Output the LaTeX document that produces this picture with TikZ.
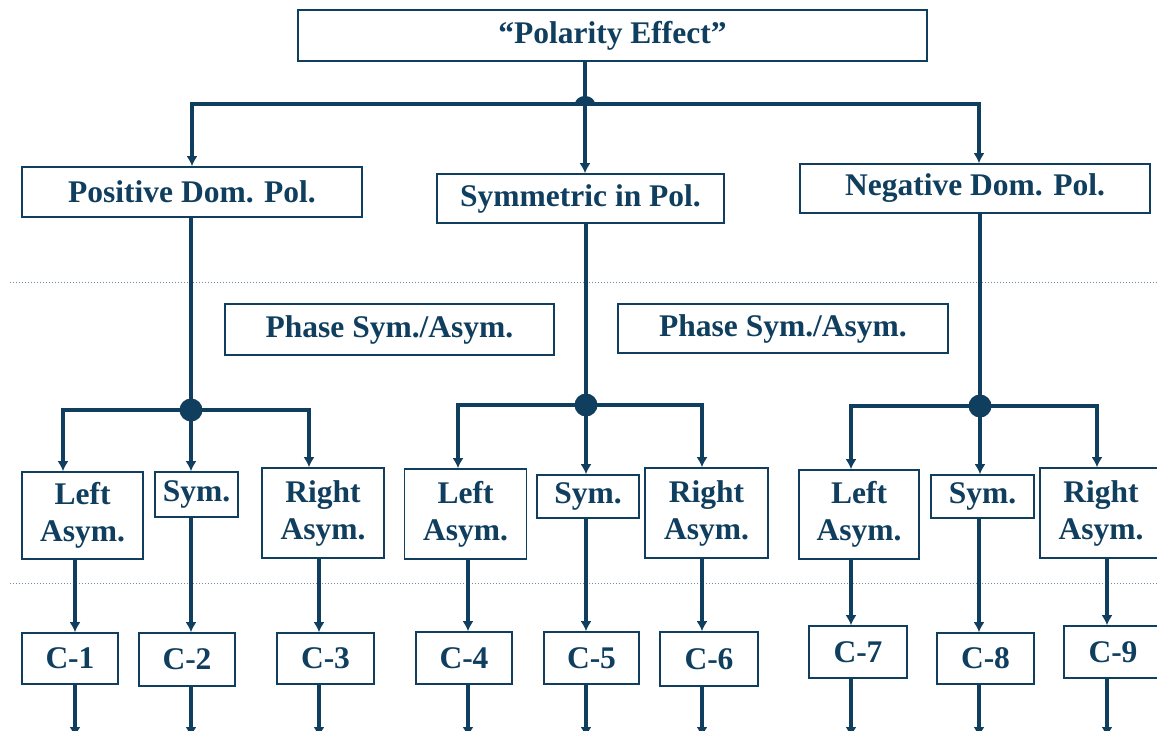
\documentclass[tikz,border=0pt]{standalone}
\usepackage{fontspec}
\setmainfont{Liberation Serif}
\usetikzlibrary{arrows.meta}
\definecolor{ink}{RGB}{16,62,94}
\definecolor{rule}{RGB}{110,140,165}
\tikzset{
    box/.style={draw=ink, line width=1.6pt, text=ink, fill=white, inner sep=0pt, align=center,
        font=\fontsize{31.5}{37}\selectfont\bfseries},
    link/.style={draw=ink, line width=3.5pt},
    arr/.style={link, -{Latex[length=10pt,width=11pt]}},
    sep/.style={draw=rule, line width=1pt, dotted},
}
\begin{document}
\begin{tikzpicture}[x=1pt, y=-1pt]
    \useasboundingbox (0,0) rectangle (1157,731);
    \fill[white] (0,0) rectangle (1157,731);

    \draw[sep] (10,282) -- (1157,282);
    \draw[sep] (10,583) -- (1157,583);

    % 1. boxes
    \node[box, minimum width=629pt, minimum height=51pt] (pe) at (612.5,35.5) {“Polarity Effect”};
    \node[box, minimum width=340pt, minimum height=50pt] (pos) at (192,192) {Positive Dom. Pol.};
    \node[box, minimum width=287pt, minimum height=49pt] (sym) at (580.5,198.5) {Symmetric in Pol.};
    \node[box, minimum width=350pt, minimum height=49pt] (neg) at (975,188.5) {Negative Dom. Pol.};
    \node[box, minimum width=329pt, minimum height=51pt] (phA) at (389.5,329.5) {Phase Sym./Asym.};
    \node[box, minimum width=330pt, minimum height=49pt] (phB) at (783,328.5) {Phase Sym./Asym.};

    \foreach \n/\x/\y/\w/\h/\t in {la1/82.5/515.5/121/87/Left\\Asym., s1/196.5/494.5/83/45/Sym.,
        ra1/323/513/122/90/Right\\Asym., la2/465.5/514/122/90/Left\\Asym., s2/588/496.5/102/43/Sym.,
        ra2/706.5/513/123/90/Right\\Asym., la3/859/514.5/120/89/Left\\Asym., s3/982.5/496.5/103/43/Sym.,
        ra3/1101/513/122/90/Right\\Asym.} {
        \node[box, minimum width=\w pt, minimum height=\h pt] (\n) at (\x,\y) {\t};
    }

    \foreach \k/\x/\y/\w/\h in {1/70/658.5/96/51, 2/187/659.5/96/53, 3/325.5/658.5/97/51,
        4/464/658/96/52, 5/591.5/658/95/52, 6/709/659/98/54,
        7/858/652/98/52, 8/985.5/658.5/97/51, 9/1113/652/98/52} {
        \node[box, minimum width=\w pt, minimum height=\h pt] (c\k) at (\x,\y) {C-\k};
    }

    % 2. connectors
    \coordinate (j0) at (585,104);
    \coordinate (d1) at (191,410);
    \coordinate (d2) at (586,405);
    \coordinate (d3) at (980,406);
    \coordinate (bot) at (0,737);

    \draw[link] (pe.south -| j0) -- (j0);
    \draw[arr] (j0) -| (pos.north);
    \draw[arr] (j0) -- (j0 |- sym.north);
    \draw[arr] (j0) -| ([xshift=4pt]neg.north);
    \fill[ink] ([xshift=-10pt]j0) arc (180:0:10pt and 8pt) -- cycle;

    \draw[link] (pos.south -| d1) -- (d1);
    \draw[link] (sym.south -| d2) -- (d2);
    \draw[link] (neg.south -| d3) -- (d3);

    \foreach \d/\l/\ls/\s/\r/\rs in {d1/la1/-19.5/s1/ra1/-14, d2/la2/-7.5/s2/ra2/-4.5, d3/la3/-8/s3/ra3/-4} {
        \draw[arr] (\d) -| ([xshift=\ls pt]\l.north);
        \draw[arr] (\d) -- (\d |- \s.north);
        \draw[arr] (\d) -| ([xshift=\rs pt]\r.north);
        \fill[ink] (\d) circle (11.5pt);
    }

    \foreach \a/\b/\s in {la1/c1/5, s1/c2/4, ra1/c3/-6.5, la2/c4/4, s2/c5/-5.5, ra2/c6/-7,
        la3/c7/-7, s3/c8/-6.5, ra3/c9/-6} {
        \draw[arr] ([xshift=\s pt]\b.north |- \a.south) -- ([xshift=\s pt]\b.north);
        \draw[arr] ([xshift=\s pt]\b.south) -- ([xshift=\s pt]\b.south |- bot);
    }
\end{tikzpicture}
\end{document}
